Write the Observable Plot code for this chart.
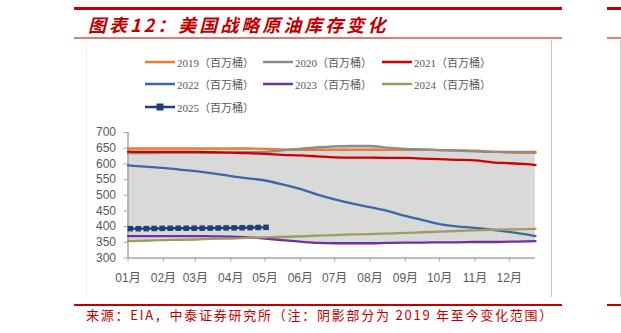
<!DOCTYPE html>
<html><head><meta charset="utf-8">
<script src="https://cdn.jsdelivr.net/npm/d3@7"></script>
<script src="https://cdn.jsdelivr.net/npm/@observablehq/plot@0.6"></script>
<style>
body{margin:0;background:#fff;}
#page{position:relative;width:621px;height:333px;overflow:hidden;background:#fff;font-family:Arial,"Liberation Sans","Noto Sans CJK SC",sans-serif;}
.abs{position:absolute;}
.leg{position:absolute;height:14px;display:flex;align-items:center;font-family:"Liberation Serif","Noto Sans CJK SC",serif;font-size:11px;color:#595959;white-space:nowrap;}
.leg svg{margin-right:2px;}
</style></head><body><div id="page"></div>
<script>
// ---- data ----
const years = ["2019", "2020", "2021", "2022", "2023", "2024", "2025"];
const colors = ["#ED7D31", "#8C8C8C", "#D00000", "#3C68A8", "#7030A0", "#A09A63", "#1F3F74"];
const unitLabel = "（百万桶）";
const monthLabels = ["01月","02月","03月","04月","05月","06月","07月","08月","09月","10月","11月","12月"];
const yTicks = [300, 350, 400, 450, 500, 550, 600, 650, 700];
const dates = ["2025-01-01","2025-01-16","2025-02-01","2025-02-15","2025-03-01","2025-03-16","2025-04-01","2025-04-16",
  "2025-05-01","2025-05-16","2025-06-01","2025-06-16","2025-07-01","2025-07-16","2025-08-01","2025-08-16",
  "2025-09-01","2025-09-16","2025-10-01","2025-10-16","2025-11-01","2025-11-16","2025-12-01","2025-12-16","2025-12-24"];
const v2019 = [649,649,649,649,649,649,649,649,648,646,645,645,645,645,645,645,645,645,644,643,642,639,636,635,635];
const v2020 = [634,634,635,635,635,635,636,637,638,643,648,653,656,657,657,652,648,646,644,642,640,638,638,638,638];
const v2021 = [639,638,638,638,638,637,636,634,632,629,627,624,621,620,620,619,619,617,615,613,611,605,602,599,596];
const v2022 = [595,591,587,582,577,570,561,554,547,535,520,502,487,474,462,450,434,421,408,401,396,390,383,375,370];
const v2023 = [370,370,370,370,370,369,368,366,362,357,352,348,347,347,347,348,349,349,350,350,351,351,352,353,354];
const v2024 = [354,355,357,358,359,361,362,364,366,367,369,371,373,375,376,378,380,382,384,386,388,390,391,392,393];
const dates2025 = ["2025-01-03","2025-01-10","2025-01-17","2025-01-24","2025-01-31","2025-02-07","2025-02-14","2025-02-21",
  "2025-02-28","2025-03-07","2025-03-14","2025-03-21","2025-03-28","2025-04-04","2025-04-11","2025-04-18","2025-04-25","2025-05-02"];
const v2025 = [393.5,393.4,393.6,394.1,394.5,394.8,394.9,394.9,395.0,395.1,395.3,395.6,395.9,396.0,396.4,396.8,397.3,397.8];
const titleText = "图表12：美国战略原油库存变化";
const sourceText = "来源：EIA，中泰证券研究所（注：阴影部分为 2019 年至今变化范围）";

// ---- build tables ----
const parse = d3.utcParse("%Y-%m-%d");
const hist = [v2019, v2020, v2021, v2022, v2023, v2024];
const rows = [];
hist.forEach((arr, k) => arr.forEach((v, i) => rows.push({date: parse(dates[i]), value: v, year: years[k]})));
const band = dates.map((d, i) => ({date: parse(d), lo: d3.min(hist, a => a[i]), hi: d3.max(hist, a => a[i])}));
const rows2025 = dates2025.map((d, i) => ({date: parse(d), value: v2025[i], year: "2025"}));
const monthTicks = monthLabels.map((_, i) => new Date(Date.UTC(2025, i, 1)));
const xDomain = [parse("2025-01-01"), parse("2025-12-24")];

const page = document.getElementById("page");
function add(html){ page.insertAdjacentHTML("beforeend", html); }

// page decorations
add(`<div class="abs" style="left:74px;top:7px;width:488px;height:3px;background:#C00000"></div>`);
add(`<div class="abs" style="left:607px;top:7px;width:14px;height:3px;background:#C00000"></div>`);
add(`<div class="abs" style="left:74px;top:37px;width:488px;height:2px;background:#E07B7B"></div>`);
add(`<div class="abs" style="left:607px;top:37px;width:14px;height:2px;background:#E07B7B"></div>`);
add(`<div class="abs" style="left:86px;top:40px;width:1px;height:257px;background:#F0F0F0"></div>`);
add(`<div class="abs" style="left:551px;top:40px;width:1px;height:257px;background:#C8C8C8"></div>`);
add(`<div class="abs" style="left:620px;top:40px;width:1px;height:257px;background:#C8C8C8"></div>`);
add(`<div class="abs" style="left:74px;top:304px;width:488px;height:1.5px;background:#C00000"></div>`);
add(`<div class="abs" style="left:607px;top:304px;width:14px;height:1.5px;background:#C00000"></div>`);
add(`<div class="abs" style="left:88px;top:11px;font-family:'Noto Sans CJK SC',sans-serif;font-weight:700;font-style:italic;font-size:18px;letter-spacing:3px;color:#C00000;line-height:26px;white-space:nowrap">${titleText}</div>`);
add(`<div class="abs" style="left:86px;top:306px;font-family:'Noto Sans CJK SC',sans-serif;font-size:13px;letter-spacing:1.75px;color:#C00000;line-height:18px;white-space:nowrap">${sourceText}</div>`);

// plot
const chart = Plot.plot({
  width: 621, height: 333,
  marginLeft: 127.5, marginRight: 86, marginTop: 132, marginBottom: 75.5,
  style: {fontFamily: "Arial, 'Liberation Sans', 'Noto Sans CJK SC', sans-serif", fontSize: "12px", background: "transparent", overflow: "visible"},
  x: {type: "utc", domain: xDomain},
  y: {domain: [300, 700]},
  color: {domain: years, range: colors},
  marks: [
    Plot.areaY(band, {x: "date", y1: "lo", y2: "hi", fill: "#D9D9D9", curve: "monotone-x"}),
    Plot.ruleY([300], {stroke: "#A6A6A6", strokeWidth: 1.5}),
    Plot.ruleX([xDomain[0]], {y1: 300, y2: 700, stroke: "#A6A6A6", strokeWidth: 1.5}),
    Plot.axisY({ticks: yTicks, tickSize: 4, tickPadding: 8, stroke: "#A6A6A6", fill: "#595959", fontSize: 12, label: null}),
    Plot.axisX({ticks: monthTicks, tickFormat: d => monthLabels[d.getUTCMonth()], tickSize: 4, tickPadding: 11, stroke: "#A6A6A6", fill: "#595959", fontSize: 12, label: null}),
    Plot.line(rows, {x: "date", y: "value", z: "year", stroke: "year", strokeWidth: 2.3, curve: "monotone-x"}),
    Plot.line(rows2025, {x: "date", y: "value", stroke: "year", strokeWidth: 2.3}),
    Plot.dot(rows2025, {x: "date", y: "value", fill: "year", symbol: "square", r: 3.1})
  ]
});
chart.style.position = "absolute"; chart.style.left = "0px"; chart.style.top = "0px";
page.appendChild(chart);

// legend
const legPos = [[145,55],[263,55],[382,55],[145,77],[263,77],[382,77],[145,100]];
years.forEach((y, i) => {
  const [lx, ly] = legPos[i];
  const marker = y === "2025" ? `<rect x="11.5" y="3.5" width="7" height="7" fill="${colors[i]}"/>` : "";
  add(`<div class="leg" style="left:${lx}px;top:${ly}px"><svg width="30" height="14"><line x1="0" x2="30" y1="7" y2="7" stroke="${colors[i]}" stroke-width="2.5"/>${marker}</svg>${y}${unitLabel}</div>`);
});
</script></body></html>
